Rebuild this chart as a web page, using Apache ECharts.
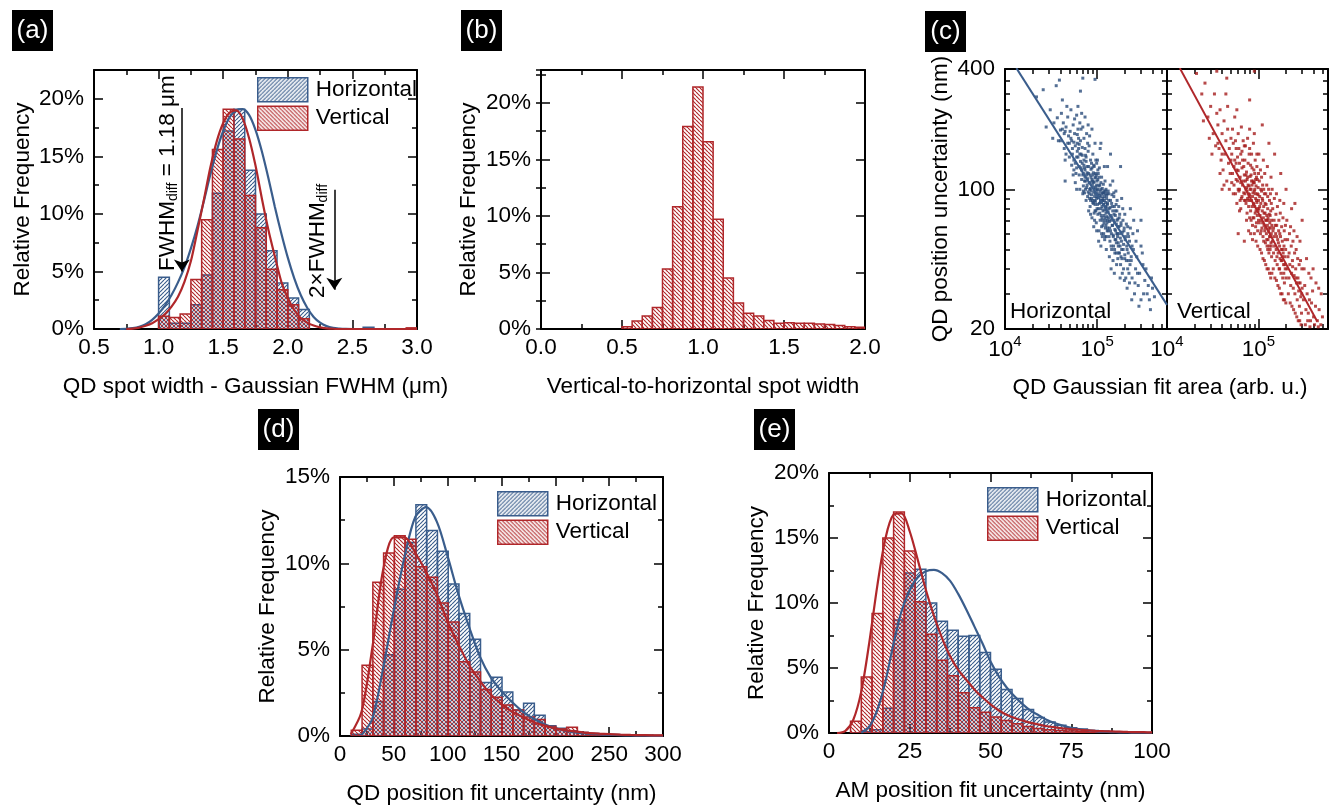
<!DOCTYPE html>
<html><head><meta charset="utf-8">
<script src="https://cdn.jsdelivr.net/npm/echarts@6/dist/echarts.min.js"></script>
<style>html,body{margin:0;padding:0;background:#fff}#c{width:1338px;height:807px}</style>
</head><body><div id="c"></div>
<script>
// ---------------- DATA ----------------
// (a) QD spot width histograms (bin left edges, relative frequency %)
const aBinWidth = 0.0833;
const aHorizEdges = [1.0,1.0833,1.1667,1.25,1.3333,1.4167,1.5,1.5833,1.6667,1.75,1.8333,1.9167,2.0,2.0833,2.5833];
const aHorizVals  = [4.5,0.5,0.5,2.1,4.7,11.8,17.2,19.1,13.8,10.0,6.8,4.0,2.7,1.7,0.15];
const aVertEdges  = [1.0,1.0833,1.1667,1.25,1.3333,1.4167,1.5,1.5833,1.6667,1.75,1.8333,1.9167,2.0,2.0833,2.9167];
const aVertVals   = [1.1,1.0,1.3,4.3,9.5,15.6,19.1,16.5,11.6,8.8,5.2,3.4,2.1,0.9,0.1];
const aHorizFit = [[0.70,0],[0.75,0.02],[0.80,0.08],[0.85,0.2],[0.90,0.42],[0.95,0.8],[1.00,1.35],[1.05,2.05],[1.10,2.95],[1.15,4.05],[1.20,5.35],[1.25,7.0],[1.30,8.9],[1.35,11.1],[1.40,13.4],[1.45,15.5],[1.50,17.2],[1.55,18.4],[1.60,19.0],[1.65,19.1],[1.70,18.6],[1.75,17.3],[1.80,15.4],[1.85,13.1],[1.90,10.6],[1.95,8.3],[2.00,6.2],[2.05,4.4],[2.10,2.95],[2.15,1.85],[2.20,1.05],[2.25,0.55],[2.30,0.25],[2.35,0.1],[2.40,0.04],[2.45,0.01],[2.50,0],[2.85,0]];
const aVertFit  = [[0.75,0],[0.80,0.04],[0.85,0.12],[0.90,0.28],[0.95,0.5],[1.00,0.85],[1.05,1.3],[1.10,1.95],[1.15,2.8],[1.20,4.1],[1.25,5.9],[1.30,8.5],[1.35,11.2],[1.40,14.0],[1.45,16.3],[1.50,17.9],[1.55,18.8],[1.60,19.0],[1.65,18.3],[1.70,16.6],[1.75,14.2],[1.80,11.3],[1.85,8.6],[1.90,6.3],[1.95,4.1],[2.00,2.7],[2.05,1.65],[2.10,0.95],[2.15,0.55],[2.20,0.3],[2.25,0.14],[2.30,0.06],[2.35,0.02],[2.40,0],[3.0,0]];
const aArrows = [[1.18,19.2,5.0],[2.36,12.1,3.4]]; // x, from y, to y

// (b) vertical-to-horizontal spot width ratio
const bBinWidth = 0.0625;
const bEdges = [0.5,0.5625,0.625,0.6875,0.75,0.8125,0.875,0.9375,1.0,1.0625,1.125,1.1875,1.25,1.3125,1.375,1.4375,1.5,1.5625,1.625,1.6875,1.75,1.8125,1.875,1.9375];
const bVals  = [0.2,0.7,1.15,1.9,5.3,10.8,17.9,21.4,16.55,9.7,4.5,2.3,1.4,1.15,0.75,0.5,0.55,0.5,0.5,0.45,0.4,0.3,0.2,0.15];

// (c) position uncertainty (nm) vs Gaussian fit area (area in thousands, arb. u.)
const cHorizPts = [[22,290],[26,315],[31,250],[33,180],[28,205],[34,215],
[36,330],[39,352],[41,240],[43,215],[45,195],[38,175],[47,260],[44,160],[48,230],[42,280],[46,205],[49,185],[40,198],[37,228],[50,170],[45,140],
[52,250],[55,210],[57,190],[53,175],[60,235],[62,200],[58,165],[54,150],[63,180],[56,140],[61,155],[64,130],[51,195],[59,120],[62,260],[55,118],[65,215],[57,225],[60,145],[53,132],[64,168],[58,108],[61,188],[56,172],
[66,310],[68,240],[70,205],[72,180],[74,160],[67,150],[69,135],[71,120],[73,110],[76,145],[78,130],[75,100],[77,190],[79,170],[66,175],[68,125],[70,95],[72,140],[74,115],[76,88],[78,105],[80,155],[67,200],[69,162],[71,98],[73,128],[75,148],[77,118],[79,92],[80,210],[65,100],[74,230],
[81,120],[83,100],[85,140],[87,90],[89,110],[91,85],[93,130],[95,95],[97,78],[99,105],[82,165],[84,82],[86,115],[88,72],[90,150],[92,102],[94,88],[96,120],[98,68],[100,92],[82,95],[85,75],[88,128],[91,108],[94,70],[97,115],[100,80],[83,185],[87,135],[92,65],[96,100],[99,135],[81,78],[86,98],[90,118],[95,84],[98,96],[84,108],[89,88],[93,76],[97,140],[100,110],[88,200],[95,170],[99,62],
[102,75],[104,95],[106,85],[108,70],[110,100],[112,65],[114,88],[116,78],[118,60],[120,92],[122,72],[124,82],[126,58],[128,68],[130,85],[103,120],[107,105],[111,80],[115,96],[119,74],[123,64],[127,90],[105,62],[109,88],[113,72],[117,106],[121,56],[125,76],[129,62],[101,140],[106,128],[112,115],[118,84],[124,98],[130,70],[104,55],[110,52],[116,66],[122,110],[128,78],[108,160],[120,130],[126,50],[114,58],[102,100],[111,92],[119,98],[129,95],
[132,62],[135,80],[138,55],[141,70],[144,50],[147,66],[150,58],[153,75],[156,48],[159,62],[162,54],[165,70],[168,45],[134,95],[140,88],[146,82],[152,92],[158,78],[164,60],[170,52],[136,46],[143,60],[149,44],[155,68],[161,84],[167,58],[133,72],[139,105],[145,72],[151,52],[157,56],[163,42],[169,65],[137,64],[148,110],[160,98],[142,40],[154,38],
[172,48],[176,60],[180,42],[184,55],[188,38],[192,50],[196,62],[200,45],[205,36],[210,52],[215,40],[220,58],[225,34],[174,72],[182,66],[190,80],[198,35],[208,44],[218,48],[228,42],[178,52],[186,45],[194,40],[202,56],[212,32],[222,38],[185,90],[200,75],[215,65],[178,36],
[235,44],[240,36],[248,50],[255,30],[262,40],[270,46],[280,33],[290,38],[300,28],[315,42],[330,35],[350,30],[370,28],[390,36],[420,29],[245,60],[265,55],[285,26],[310,48],[340,40],[238,28],[258,34],[275,38],[300,52],[360,33],[250,70],[320,30],[400,32],[380,25],[275,62],
[70,360],[95,355],[130,130],[180,130],[60,100],[45,110],[230,80],[140,150],[300,70],[110,170],
[70,118],[71,104],[72,132],[73,96],[74,125],[75,110],[76,138],[77,102],[78,121],[79,113],
[80,97],[81,130],[82,108],[83,90],[84,118],[85,101],[86,126],[87,94],[88,112],[89,105],
[90,86],[91,121],[92,97],[93,109],[94,92],[95,114],[96,87],[97,103],[98,118],[99,90],
[100,99],[101,84],[102,112],[103,91],[104,80],[105,104],[106,93],[107,76],[108,98],[109,86],
[110,108],[111,74],[112,95],[113,82],[114,101],[115,70],[116,90],[117,84],[118,96],[119,68],
[120,88],[121,79],[122,95],[123,70],[124,86],[125,66],[126,81],[127,93],[128,73],[129,84],
[130,64],[132,77],[134,88],[136,69],[138,81],[140,62],[142,74],[144,85],[146,66],[148,78],
[150,59],[152,70],[154,82],[156,63],[158,74],[160,56],[162,67],[164,78],[166,60],[168,71],
[170,54],[173,65],[176,75],[179,57],[182,68],[185,50],[188,61],[191,70],[194,53],[197,64],
[200,47],[204,58],[208,67],[212,50],[216,60],[220,44],[225,55],[230,64],[235,46],[240,52],
[60,128],[62,145],[64,118],[66,138],[68,112],[63,160],[67,128],[69,148],[61,170],[65,150],
[85,88],[95,78],[105,115],[115,88],[125,100],[135,58],[145,94],[155,50],[165,88],[175,48],
[92,132],[102,125],[112,60],[122,58],[132,98],[142,52],[152,96],[162,48],[172,82],[182,46],
[50,145],[54,160],[58,135],[52,180],[56,125],[48,170],[46,150],[44,190],[42,200],[40,175]];
const cVertPts = [[21,380],[24,300],[26,340],[28,230],[30,260],[32,190],[33,300],[34,165],[29,180],[25,220],[31,150],[35,240],
[36,210],[37,160],[38,250],[39,140],[40,190],[41,125],[42,220],[43,150],[44,175],[45,110],[46,200],[47,135],[48,160],[49,120],[50,180],[38,120],[42,105],[46,260],[44,300],[48,100],[40,150],[36,170],[50,140],
[51,150],[52,120],[53,170],[54,105],[55,140],[56,95],[57,160],[58,125],[59,110],[60,190],[61,98],[62,135],[63,115],[64,150],[65,90],[66,128],[67,105],[68,175],[69,96],[70,118],[52,200],[55,230],[58,85],[61,160],[64,80],[67,140],[70,88],[53,95],[56,175],[59,145],[62,100],[65,205],[68,110],[54,130],[57,112],[60,124],[63,88],[66,155],[69,130],[51,108],[58,250],[62,78],[66,92],[70,165],[64,108],[60,100],[57,135],
[71,95],[72,110],[73,85],[74,122],[75,98],[76,90],[77,135],[78,82],[79,104],[80,94],[81,116],[82,78],[83,100],[84,88],[85,128],[86,92],[87,72],[88,108],[89,84],[90,98],[91,120],[92,76],[93,90],[94,104],[95,68],[96,86],[97,112],[98,80],[99,94],[100,70],
[71,140],[73,118],[75,76],[77,105],[79,150],[81,88],[83,70],[85,105],[87,96],[89,125],[91,82],[93,65],[95,115],[97,74],[99,102],[72,88],[74,102],[76,115],[78,95],[80,72],[82,132],[84,110],[86,66],[88,85],[90,108],[92,95],[94,78],[96,130],[98,62],[100,88],
[72,165],[76,180],[80,160],[84,150],[88,170],[92,140],[96,150],[100,120],[74,70],[78,62],[82,60],[86,56],[90,60],[94,55],[98,52],
[73,100],[75,112],[77,88],[79,92],[81,100],[83,118],[85,82],[87,110],[89,72],[91,100],[93,112],[95,88],[97,95],[99,78],[80,200],[90,190],
[101,80],[102,68],[103,92],[104,74],[105,60],[106,85],[107,70],[108,98],[109,64],[110,78],[111,88],[112,58],[113,72],[114,82],[115,66],[116,95],[117,62],[118,76],[119,54],[120,70],[121,84],[122,60],[123,74],[124,52],[125,66],[126,80],[127,56],[128,70],[129,62],[130,48],[131,75],[132,58],[133,68],[134,50],[135,64],[136,78],[137,54],[138,60],[139,46],[140,66],
[102,110],[105,125],[108,115],[111,105],[114,100],[117,120],[120,95],[123,105],[126,92],[129,100],[132,88],[135,95],[138,85],[104,50],[108,48],[112,45],[116,44],[120,42],[124,40],[128,40],[132,38],[136,36],[140,38],
[103,82],[107,62],[111,68],[115,76],[119,64],[123,56],[127,72],[131,52],[135,58],[139,70],[106,100],[110,90],[114,55],[118,85],[122,70],[126,50],[130,64],[134,74],[138,52],[101,150],[113,140],[125,130],[137,115],
[142,55],[144,62],[146,48],[148,70],[150,52],[152,44],[154,60],[156,50],[158,66],[160,42],[162,56],[164,48],[166,62],[168,40],[170,52],[172,45],[174,58],[176,38],[178,50],[180,44],[182,55],[184,36],[186,48],[188,42],[190,52],[192,34],[194,46],[196,40],[198,50],[200,36],
[143,80],[149,90],[155,75],[161,82],[167,70],[173,76],[179,65],[185,72],[191,62],[197,66],[145,40],[151,36],[157,35],[163,33],[169,32],[175,30],[181,30],[187,28],[193,28],[199,27],
[147,58],[153,66],[159,46],[165,54],[171,60],[177,44],[183,50],[189,38],[195,56],[141,100],[157,95],[171,88],[189,85],[146,64],[158,58],[170,40],[182,46],[194,42],
[205,40],[210,46],[215,36],[220,42],[225,33],[230,38],[235,44],[240,32],[245,37],[250,30],[255,40],[260,34],[265,28],[270,36],[275,31],[280,26],[285,34],[290,29],[295,24],[300,32],
[208,56],[218,60],[228,52],[238,55],[248,48],[258,50],[268,45],[278,42],[288,44],[298,40],[212,30],[222,27],[232,26],[242,25],[252,24],[262,23],[272,22],[282,22],[292,21],
[204,70],[224,65],[244,62],[264,58],[284,55],[216,48],[236,41],[256,36],[276,34],[296,30],
[310,28],[320,33],[330,25],[340,30],[350,24],[360,28],[370,22],[380,27],[390,31],[400,23],[420,26],[440,22],[460,25],[480,21],[500,23],[315,40],[335,45],[355,38],[375,36],[395,40],[425,34],[455,32],[485,30],[325,21],[345,22],[365,20.5],[410,21],[450,20.5],
[35,390],[45,360],[90,390],[80,280],[110,210],[150,150],[60,60],[70,55],[200,100],[250,85],[300,70],[40,100],[130,170],[175,120],[230,80]];
const cHorizFitLine = [[13300,404],[575000,26.4]];
const cVertFitLine  = [[13800,404],[439000,21.8]];

// (d) QD position fit uncertainty (nm)
const dBinWidth = 10;
const dEdges = [10.5,20.5,30.5,40.5,50.5,60.5,70.5,80.5,90.5,100.5,110.5,120.5,130.5,140.5,150.5,160.5,170.5,180.5,190.5,200.5,210.5,220.5,230.5,240.5,250.5,260.5,270.5,280.5,290.5];
const dHoriz = [0.1,0.4,2.0,4.7,8.5,11.2,13.4,11.9,10.7,8.8,7.1,5.6,3.1,3.4,2.55,1.5,1.9,1.2,0.6,0.45,0.3,0.2,0.15,0.1,0.08,0.06,0.05,0.04,0.03];
const dVert  = [0.33,4.1,8.9,10.6,11.6,11.4,9.8,9.2,7.7,6.6,4.3,3.7,2.7,2.25,1.8,1.5,1.1,0.95,0.55,0.4,0.5,0.2,0.15,0.1,0.08,0.06,0.05,0.04,0.03];
const dHorizFit = [[20,0.05],[30,1.0],[40,3.9],[50,7.3],[60,10.4],[70,12.7],[80,13.25],[90,12.4],[100,10.4],[110,8.2],[120,6.3],[130,4.6],[140,3.4],[150,2.6],[160,1.95],[170,1.4],[180,1.0],[190,0.68],[200,0.45],[210,0.3],[220,0.2],[230,0.14],[240,0.1],[250,0.07],[260,0.05],[270,0.03],[280,0.02],[290,0.01],[300,0.01]];
const dVertFit  = [[10,0.1],[20,1.4],[30,5.1],[40,9.6],[50,11.5],[60,11.5],[70,10.6],[80,9.5],[90,8.2],[100,6.6],[110,5.3],[120,4.1],[130,3.2],[140,2.4],[150,1.85],[160,1.4],[170,1.1],[180,0.8],[190,0.6],[200,0.44],[210,0.33],[220,0.25],[230,0.18],[240,0.14],[250,0.11],[260,0.08],[270,0.06],[280,0.05],[290,0.04],[300,0.04]];

// (e) AM position fit uncertainty (nm)
const eBinWidth = 3.333;
const eEdges = [6.667,10,13.333,16.667,20,23.333,26.667,30,33.333,36.667,40,43.333,46.667,50,53.333,56.667,60,63.333,66.667,70,73.333,76.667,80,83.333,86.667,90,93.333,96.667];
const eHoriz = [0,0.1,0.25,1.9,8.7,12.3,12.6,10.0,8.6,7.9,7.45,7.5,6.2,4.9,3.35,2.65,1.8,1.2,0.85,0.6,0.4,0.3,0.2,0.15,0.1,0.07,0.05,0.03];
const eVert  = [0.9,4.3,9.2,15.0,17.0,14.0,10.1,7.6,5.6,4.4,3.1,1.95,1.6,1.23,0.97,0.72,0.5,0.35,0.25,0.2,0.15,0.1,0.07,0.05,0.04,0.03,0.02,0.02];
const eHorizFit = [[10,0.03],[12.5,0.5],[15,1.8],[17.5,4.0],[20,6.9],[22.5,9.4],[25,11.0],[27.5,12.0],[30,12.45],[32.5,12.55],[35,12.3],[37.5,11.7],[40,10.7],[42.5,9.5],[45,8.2],[47.5,6.9],[50,5.5],[52.5,4.4],[55,3.5],[57.5,2.8],[60,2.2],[62.5,1.7],[65,1.35],[67.5,1.0],[70,0.75],[72.5,0.56],[75,0.4],[77.5,0.3],[80,0.21],[82.5,0.15],[85,0.1],[87.5,0.07],[90,0.05],[92.5,0.04],[95,0.03],[97.5,0.02],[100,0.02]];
const eVertFit  = [[2.5,0],[5,0.15],[7.5,1.0],[10,3.2],[12.5,7.0],[15,11.4],[17.5,15.0],[20,16.8],[22.5,16.9],[25,15.5],[27.5,13.3],[30,11.0],[32.5,9.0],[35,7.3],[37.5,5.9],[40,4.85],[42.5,4.1],[45,3.35],[47.5,2.75],[50,2.2],[52.5,1.75],[55,1.4],[57.5,1.15],[60,0.95],[62.5,0.78],[65,0.64],[67.5,0.52],[70,0.43],[72.5,0.36],[75,0.3],[77.5,0.25],[80,0.21],[82.5,0.17],[85,0.14],[87.5,0.12],[90,0.1],[92.5,0.08],[95,0.07],[97.5,0.06],[100,0.05]];

// ---------------- STYLE ----------------
const F = "'Liberation Sans', Arial, Helvetica, sans-serif";
const K = '#000';
const FS = 22.5;
const BLUE = '#3a5d8c', RED = '#b0272a';
const BLUE_DOT = '#2b4c7a', RED_DOT = '#a51b1b';
function hatch(color, up) {
  const n = 4, c = document.createElement('canvas');
  c.width = n; c.height = n;
  const ctx = c.getContext('2d');
  ctx.strokeStyle = color; ctx.lineWidth = 1.15;
  [-n, 0, n].forEach(o => {
    ctx.beginPath();
    if (up) { ctx.moveTo(o, n); ctx.lineTo(o + n, 0); } else { ctx.moveTo(o, 0); ctx.lineTo(o + n, n); }
    ctx.stroke();
  });
  return { image: c, repeat: 'repeat' };
}
const patB = hatch('rgb(58,93,140)', true);
const patR = hatch('rgb(176,39,42)', false);

const AL = { show: true, onZero: false, lineStyle: { color: K, width: 2 } };
const TS = { color: K, width: 1.5 };
const xAxes = [], yAxes = [];
function addX(o) { xAxes.push(o); return xAxes.length - 1; }
function addY(o) { yAxes.push(o); return yAxes.length - 1; }

function linX(g, min, max, itv, fmt, name) {
  const base = { type: 'value', gridIndex: g, min, max, interval: itv, axisLine: AL, splitLine: { show: false },
    axisTick: { show: true, inside: true, length: 9, lineStyle: TS },
    minorTick: { show: true, splitNumber: 2, length: 5, lineStyle: TS } };
  const i = addX(Object.assign({}, base, { position: 'bottom',
    axisLabel: { color: K, fontSize: FS, fontFamily: F, margin: 7, formatter: fmt },
    name, nameLocation: 'middle', nameGap: 46, nameTextStyle: { color: K, fontSize: FS, fontFamily: F } }));
  addX(Object.assign({}, base, { position: 'top', axisLabel: { show: false } }));
  return i;
}
function linY(g, max, itv, split, name, gap) {
  const base = { type: 'value', gridIndex: g, min: 0, max, splitLine: { show: false } };
  const major = Object.assign({}, base, { interval: itv, axisLine: AL,
    axisTick: { show: true, inside: true, length: 9, lineStyle: TS },
    minorTick: { show: !split, splitNumber: 2, length: 5, lineStyle: TS } });
  const i = addY(Object.assign({}, major, { position: 'left',
    axisLabel: { color: K, fontSize: FS, fontFamily: F, margin: 10, formatter: '{value}%', showMaxLabel: !split },
    name, nameLocation: 'middle', nameGap: gap, nameTextStyle: { color: K, fontSize: FS, fontFamily: F } }));
  addY(Object.assign({}, major, { position: 'right', axisLabel: { show: false } }));
  if (split) {
    ['left', 'right'].forEach(p => addY(Object.assign({}, base, { position: p, interval: itv / 2,
      axisLine: { show: false }, axisTick: { show: true, inside: true, length: 5, lineStyle: TS },
      axisLabel: { show: false } })));
  }
  return i;
}
const supRich = { b: { fontSize: FS, fontFamily: F, color: K, lineHeight: 27, verticalAlign: 'bottom' },
                  s: { fontSize: 15, fontFamily: F, color: K, lineHeight: 15, verticalAlign: 'top' } };
function logX(g) {
  const base = { type: 'log', logBase: 10, gridIndex: g, min: 1e4, max: 5.75e5, splitLine: { show: false }, minorTick: { show: false } };
  const minors = [2e4,3e4,4e4,5e4,6e4,7e4,8e4,9e4,2e5,3e5,4e5,5e5];
  const i = addX(Object.assign({}, base, { position: 'bottom', axisLine: AL,
    axisTick: { show: true, inside: true, length: 5, lineStyle: TS, customValues: minors },
    axisLabel: { show: true, customValues: [1e4, 1e5], margin: 5, formatter: v => '{b|10}{s|' + Math.round(Math.log10(v)) + '}', rich: supRich } }));
  addX(Object.assign({}, base, { position: 'top', axisLine: AL,
    axisTick: { show: true, inside: true, length: 5, lineStyle: TS, customValues: minors }, axisLabel: { show: false } }));
  ['bottom', 'top'].forEach(p => addX(Object.assign({}, base, { position: p, axisLine: { show: false },
    axisTick: { show: true, inside: true, length: 10, lineStyle: TS, customValues: [1e5] }, axisLabel: { show: false } })));
  return i;
}
function logY(g, labels) {
  const base = { type: 'log', logBase: 10, gridIndex: g, min: 20, max: 400, splitLine: { show: false }, minorTick: { show: false } };
  const minors = [30,40,50,60,70,80,90,150,200,250,300,350];
  const i = addY(Object.assign({}, base, { position: 'left', axisLine: AL,
    axisTick: { show: true, inside: true, length: 5, lineStyle: TS, customValues: minors },
    axisLabel: labels ? { show: true, customValues: [20, 100, 400], color: K, fontSize: FS, fontFamily: F, margin: 10 } : { show: false },
    name: labels ? 'QD position uncertainty (nm)' : '', nameLocation: 'middle', nameGap: 53,
    nameTextStyle: { color: K, fontSize: FS, fontFamily: F } }));
  addY(Object.assign({}, base, { position: 'right', axisLine: AL,
    axisTick: { show: true, inside: true, length: 5, lineStyle: TS, customValues: minors }, axisLabel: { show: false } }));
  ['left', 'right'].forEach(p => addY(Object.assign({}, base, { position: p, axisLine: { show: false },
    axisTick: { show: true, inside: true, length: 10, lineStyle: TS, customValues: [100] }, axisLabel: { show: false } })));
  return i;
}

const grids = [
  { left: 94, top: 70, width: 323, height: 259 },
  { left: 541, top: 70, width: 324, height: 259 },
  { left: 1005, top: 69, width: 162, height: 260 },
  { left: 1167, top: 69, width: 161, height: 260 },
  { left: 340, top: 477, width: 323, height: 259 },
  { left: 829, top: 473, width: 323, height: 260 }
];
const f1 = v => v.toFixed(1);
const xa = linX(0, 0.5, 3.0, 0.5, f1, 'QD spot width - Gaussian FWHM (\u03bcm)');
const ya = linY(0, 22.5, 5, true, 'Relative Frequency', 60);
const xb = linX(1, 0, 2.0, 0.5, f1, 'Vertical-to-horizontal spot width');
const yb = linY(1, 22.9, 5, true, 'Relative Frequency', 61);
const xcl = logX(2), ycl = logY(2, true);
const xcr = logX(3), ycr = logY(3, false);
const xd = linX(4, 0, 300, 50, '{value}', 'QD position fit uncertainty (nm)');
const yd = linY(4, 15, 5, false, 'Relative Frequency', 61);
const xe = linX(5, 0, 100, 25, '{value}', 'AM position fit uncertainty (nm)');
const ye = linY(5, 20, 5, false, 'Relative Frequency', 61);

function hist(name, xi, yi, edges, w, vals, color, pat) {
  return { type: 'custom', name, xAxisIndex: xi, yAxisIndex: yi, clip: true, silent: true,
    data: edges.map((e, i) => [e, e + w, vals[i]]), encode: { x: [0, 1], y: 2 },
    itemStyle: { color: pat, borderColor: color, borderWidth: 1.5 },
    renderItem: (params, api) => {
      const p0 = api.coord([api.value(0), api.value(2)]);
      const p1 = api.coord([api.value(1), 0]);
      return { type: 'rect', shape: { x: p0[0], y: p0[1], width: p1[0] - p0[0], height: p1[1] - p0[1] },
        style: { fill: pat, stroke: color, lineWidth: 1.5 } };
    } };
}
function fit(xi, yi, pts, color, extra) {
  return Object.assign({ type: 'line', xAxisIndex: xi, yAxisIndex: yi, data: pts, smooth: 0.3,
    showSymbol: false, symbol: 'none', silent: true, clip: true, z: 4, lineStyle: { color, width: 2.2 } }, extra || {});
}
function scat(xi, yi, pts, color) {
  return { type: 'scatter', xAxisIndex: xi, yAxisIndex: yi, symbol: 'rect', symbolSize: 3, silent: true,
    data: pts.map(p => [p[0] * 1000, p[1]]), itemStyle: { color } };
}
const arrowMark = { silent: true, symbol: ['none', 'arrow'], symbolSize: 12, label: { show: false },
  lineStyle: { color: K, width: 1.5, type: 'solid' }, itemStyle: { color: K },
  data: aArrows.map(a => [{ coord: [a[0], a[1]] }, { coord: [a[0], a[2]] }]) };

const series = [
  hist('Horizontal', xa, ya, aHorizEdges, aBinWidth, aHorizVals, BLUE, patB),
  hist('Vertical', xa, ya, aVertEdges, aBinWidth, aVertVals, RED, patR),
  fit(xa, ya, aHorizFit, BLUE, { markLine: arrowMark }),
  fit(xa, ya, aVertFit, RED),
  hist('ratio', xb, yb, bEdges, bBinWidth, bVals, RED, patR),
  scat(xcl, ycl, cHorizPts, BLUE_DOT),
  fit(xcl, ycl, cHorizFitLine, BLUE, { smooth: false, lineStyle: { color: BLUE, width: 2 } }),
  scat(xcr, ycr, cVertPts, RED_DOT),
  fit(xcr, ycr, cVertFitLine, RED, { smooth: false, lineStyle: { color: RED, width: 2 } }),
  hist('Horizontal', xd, yd, dEdges, dBinWidth, dHoriz, BLUE, patB),
  hist('Vertical', xd, yd, dEdges, dBinWidth, dVert, RED, patR),
  fit(xd, yd, dHorizFit, BLUE),
  fit(xd, yd, dVertFit, RED),
  hist('Horizontal', xe, ye, eEdges, eBinWidth, eHoriz, BLUE, patB),
  hist('Vertical', xe, ye, eEdges, eBinWidth, eVert, RED, patR),
  fit(xe, ye, eHorizFit, BLUE),
  fit(xe, ye, eVertFit, RED)
];

function legendAt(left, top) {
  return { left, top, orient: 'vertical', itemWidth: 50, itemHeight: 24, itemGap: 3, padding: 0, icon: 'rect',
    selectedMode: false, textStyle: { color: K, fontSize: FS, fontFamily: F, padding: [0, 0, 0, 3] },
    data: [ { name: 'Horizontal', itemStyle: { color: patB, borderColor: BLUE, borderWidth: 1.5 } },
            { name: 'Vertical', itemStyle: { color: patR, borderColor: RED, borderWidth: 1.5 } } ] };
}
function tag(x, y, t) {
  return { type: 'group', x, y, children: [
    { type: 'rect', shape: { x: 0, y: 0, width: 41, height: 41 }, style: { fill: '#000' } },
    { type: 'text', x: 20.5, y: 21, style: { text: t, fill: '#fff', fontSize: 26, fontFamily: F, align: 'center', verticalAlign: 'middle' } } ] };
}
const subRich = { a: { fontSize: FS, fontFamily: F, fill: K, color: K, lineHeight: 24, verticalAlign: 'top' },
                  s: { fontSize: 14, fontFamily: F, fill: K, color: K, lineHeight: 16, padding: [12, 0, 0, 0], verticalAlign: 'bottom' } };

const option = {
  animation: false,
  backgroundColor: '#fff',
  grid: grids.map(g => Object.assign({ containLabel: false }, g)),
  xAxis: xAxes, yAxis: yAxes, series,
  legend: [ legendAt(257, 77), legendAt(497, 491), legendAt(987, 487) ],
  graphic: [
    tag(12, 10, '(a)'), tag(461, 10, '(b)'), tag(925, 11, '(c)'), tag(258, 409, '(d)'), tag(754, 409, '(e)'),
    { type: 'text', x: 168, y: 271, rotation: Math.PI / 2, style: { text: '{a|FWHM}{s|diff}{a| = 1.18 \u03bcm}', rich: subRich, align: 'left', verticalAlign: 'middle', fill: K } },
    { type: 'text', x: 318, y: 298, rotation: Math.PI / 2, style: { text: '{a|2\u00d7FWHM}{s|diff}', rich: subRich, align: 'left', verticalAlign: 'middle', fill: K } },
    { type: 'text', x: 1010, y: 323, style: { text: 'Horizontal', fill: K, fontSize: FS, fontFamily: F, align: 'left', verticalAlign: 'bottom' } },
    { type: 'text', x: 1177, y: 323, style: { text: 'Vertical', fill: K, fontSize: FS, fontFamily: F, align: 'left', verticalAlign: 'bottom' } },
    { type: 'text', x: 1160, y: 376, style: { text: 'QD Gaussian fit area (arb. u.)', fill: K, fontSize: FS, fontFamily: F, align: 'center', verticalAlign: 'top' } }
  ]
};
const chart = echarts.init(document.getElementById('c'), null, { renderer: 'canvas' });
chart.setOption(option);
</script></body></html>
